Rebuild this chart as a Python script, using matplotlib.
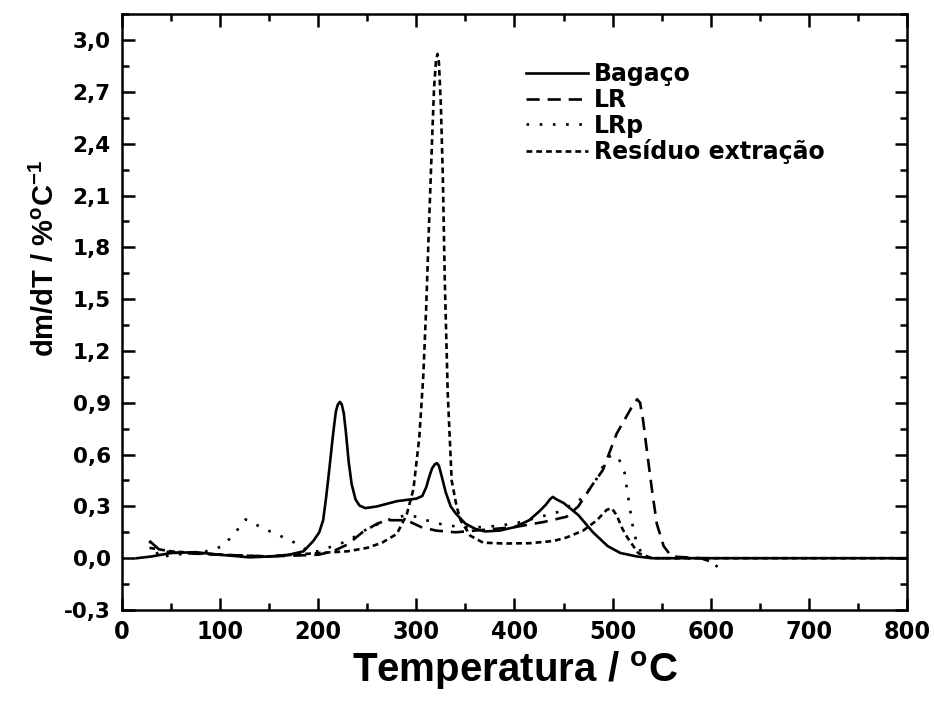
import numpy as np
import matplotlib
matplotlib.use("Agg")
import matplotlib.pyplot as plt
from matplotlib.ticker import MultipleLocator, FuncFormatter
from matplotlib import font_manager
from matplotlib.font_manager import FontProperties

# ---- dados ----
T_bagaco = [15, 30, 50, 75, 100, 130, 150, 170, 185, 195, 201, 205, 208, 211, 214, 216, 218, 220, 222, 224, 226,
            228, 231, 234, 238, 242, 248, 260, 280, 300, 306, 310, 313, 316, 319, 321, 323, 326, 330, 335, 340,
            350, 360, 370, 385, 400, 415, 425, 432, 436, 439, 443, 450, 465, 480, 495, 508, 525, 540, 600, 700, 800]
y_bagaco = [0.0, 0.01, 0.03, 0.035, 0.02, 0.005, 0.01, 0.02, 0.04, 0.1, 0.15, 0.22, 0.35, 0.5, 0.66, 0.76, 0.85, 0.89, 0.905, 0.89, 0.84,
            0.74, 0.56, 0.43, 0.34, 0.305, 0.29, 0.3, 0.33, 0.345, 0.36, 0.41, 0.47, 0.52, 0.545, 0.55, 0.535, 0.47, 0.38, 0.3, 0.26,
            0.2, 0.17, 0.155, 0.16, 0.18, 0.22, 0.27, 0.31, 0.34, 0.355, 0.34, 0.32, 0.25, 0.15, 0.07, 0.03, 0.01, 0.0, 0.0, 0.0, 0.0]

T_lr = [28, 40, 60, 100, 150, 200, 215, 230, 245, 260, 270, 290, 305, 320, 340, 360, 380, 400, 430, 453, 465,
        480, 490, 504, 515, 521, 525, 528, 531, 535, 540, 545, 552, 560, 590, 600, 607]
y_lr = [0.1, 0.04, 0.03, 0.02, 0.01, 0.02, 0.04, 0.08, 0.15, 0.2, 0.22, 0.22, 0.18, 0.16, 0.15, 0.16, 0.17, 0.18, 0.21, 0.24, 0.3,
        0.43, 0.51, 0.72, 0.83, 0.89, 0.92, 0.9, 0.8, 0.62, 0.4, 0.2, 0.07, 0.01, 0.0, -0.02, -0.05]

T_lrp = [28, 39, 50, 80, 103, 117, 126, 145, 161, 176, 190, 200, 230, 250, 270, 290, 300, 310, 330, 350, 370,
         400, 420, 446, 467, 480, 490, 497, 501, 506, 512, 516, 520, 524, 530, 540, 600]
y_lrp = [0.1, 0.0, 0.02, 0.03, 0.07, 0.16, 0.225, 0.17, 0.13, 0.09, 0.04, 0.04, 0.1, 0.17, 0.22, 0.25, 0.24, 0.22, 0.19, 0.18, 0.18,
         0.2, 0.23, 0.27, 0.34, 0.42, 0.53, 0.59, 0.6, 0.58, 0.5, 0.35, 0.2, 0.1, 0.02, 0.0, 0.0]

T_res = [28, 50, 100, 150, 200, 230, 250, 265, 280, 290, 297, 303, 307, 310, 313, 316, 318, 320, 321.5, 323, 325,
         327, 329, 332, 336, 341, 345, 355, 368, 390, 416, 440, 453, 470, 484, 494, 499, 504, 510, 515, 526, 540, 650, 800]
y_res = [0.06, 0.04, 0.02, 0.01, 0.03, 0.04, 0.06, 0.09, 0.14, 0.25, 0.4, 0.7, 1.05, 1.45, 1.95, 2.42, 2.72, 2.88, 2.92, 2.87, 2.62,
         2.2, 1.6, 0.95, 0.45, 0.3, 0.22, 0.13, 0.09, 0.085, 0.087, 0.1, 0.12, 0.16, 0.22, 0.28, 0.29, 0.25, 0.17, 0.12, 0.03, 0.0, 0.0, 0.0]

# ---- fontes ----
def achar_fonte(padroes, padrao_familia):
    for pad in padroes:
        for f in font_manager.fontManager.ttflist:
            if pad.lower() in f.fname.lower().replace(' ', ''):
                return FontProperties(fname=f.fname)
    return FontProperties(family=padrao_familia, weight='bold')

fonte_estreita = achar_fonte(['LiberationSansNarrow-Bold.', 'DejaVuSansCondensed-Bold.', 'RobotoCondensed-Bold.'],
                             'Liberation Sans')

plt.rcParams['font.family'] = 'Liberation Sans'
plt.rcParams['font.weight'] = 'bold'
plt.rcParams['mathtext.fontset'] = 'custom'
plt.rcParams['mathtext.rm'] = 'Liberation Sans:bold'
plt.rcParams['mathtext.bf'] = 'Liberation Sans:bold'
plt.rcParams['mathtext.default'] = 'bf'

fig = plt.figure(figsize=(9.34, 7.09), dpi=100)
ax = fig.add_axes([0.1306, 0.1396, 0.9711 - 0.1306, 0.980 - 0.1396])

lw = 1.9
ax.plot(T_bagaco, y_bagaco, color='black', lw=lw, ls='-', label='Bagaço')
ax.plot(T_lr, y_lr, color='black', lw=lw, ls=(0, (5, 3)), label='LR')
ax.plot(T_lrp, y_lrp, color='black', lw=lw, ls=(0, (1, 4)), label='LRp')
ax.plot(T_res, y_res, color='black', lw=lw, ls=(0, (2.2, 1.5)), label='Resíduo extração')

ax.set_xlim(0, 800)
ax.set_ylim(-0.3, 3.15)
ax.xaxis.set_major_locator(MultipleLocator(100))
ax.xaxis.set_minor_locator(MultipleLocator(50))
ax.yaxis.set_major_locator(MultipleLocator(0.3))
ax.yaxis.set_minor_locator(MultipleLocator(0.15))
ax.yaxis.set_major_formatter(FuncFormatter(lambda v, p: f"{v:.1f}".replace('.', ',').replace('-0,0', '0,0')))

ax.tick_params(which='both', direction='in', top=True, right=True, width=1.8)
ax.tick_params(which='major', length=9)
ax.tick_params(which='minor', length=5)
ax.tick_params(axis='y', which='major', pad=8)
ax.tick_params(axis='x', which='major', pad=7)
for lab in ax.get_yticklabels():
    lab.set_fontfamily('DejaVu Sans')
    lab.set_fontweight('bold')
    lab.set_fontsize(15.5)
for lab in ax.get_xticklabels():
    lab.set_fontproperties(fonte_estreita)
    lab.set_fontsize(18)
for s in ax.spines.values():
    s.set_linewidth(1.8)

ax.set_xlabel('Temperatura / $^{\\mathbf{o}}$C', fontsize=29, fontweight='bold', labelpad=4)
ax.set_ylabel('dm/dT / %$^{\\mathbf{o}}$C$^{\\mathbf{-1}}$', fontsize=21, fontweight='bold')
ax.yaxis.set_label_coords(-0.079, 0.59)

leg = ax.legend(loc='upper left', bbox_to_anchor=(0.503, 0.935), frameon=False,
                prop={'family': 'DejaVu Sans', 'weight': 'bold', 'size': 17},
                handlelength=2.6, handletextpad=0.25, labelspacing=0.07, borderaxespad=0)

fig.savefig('out.png', dpi=100)
